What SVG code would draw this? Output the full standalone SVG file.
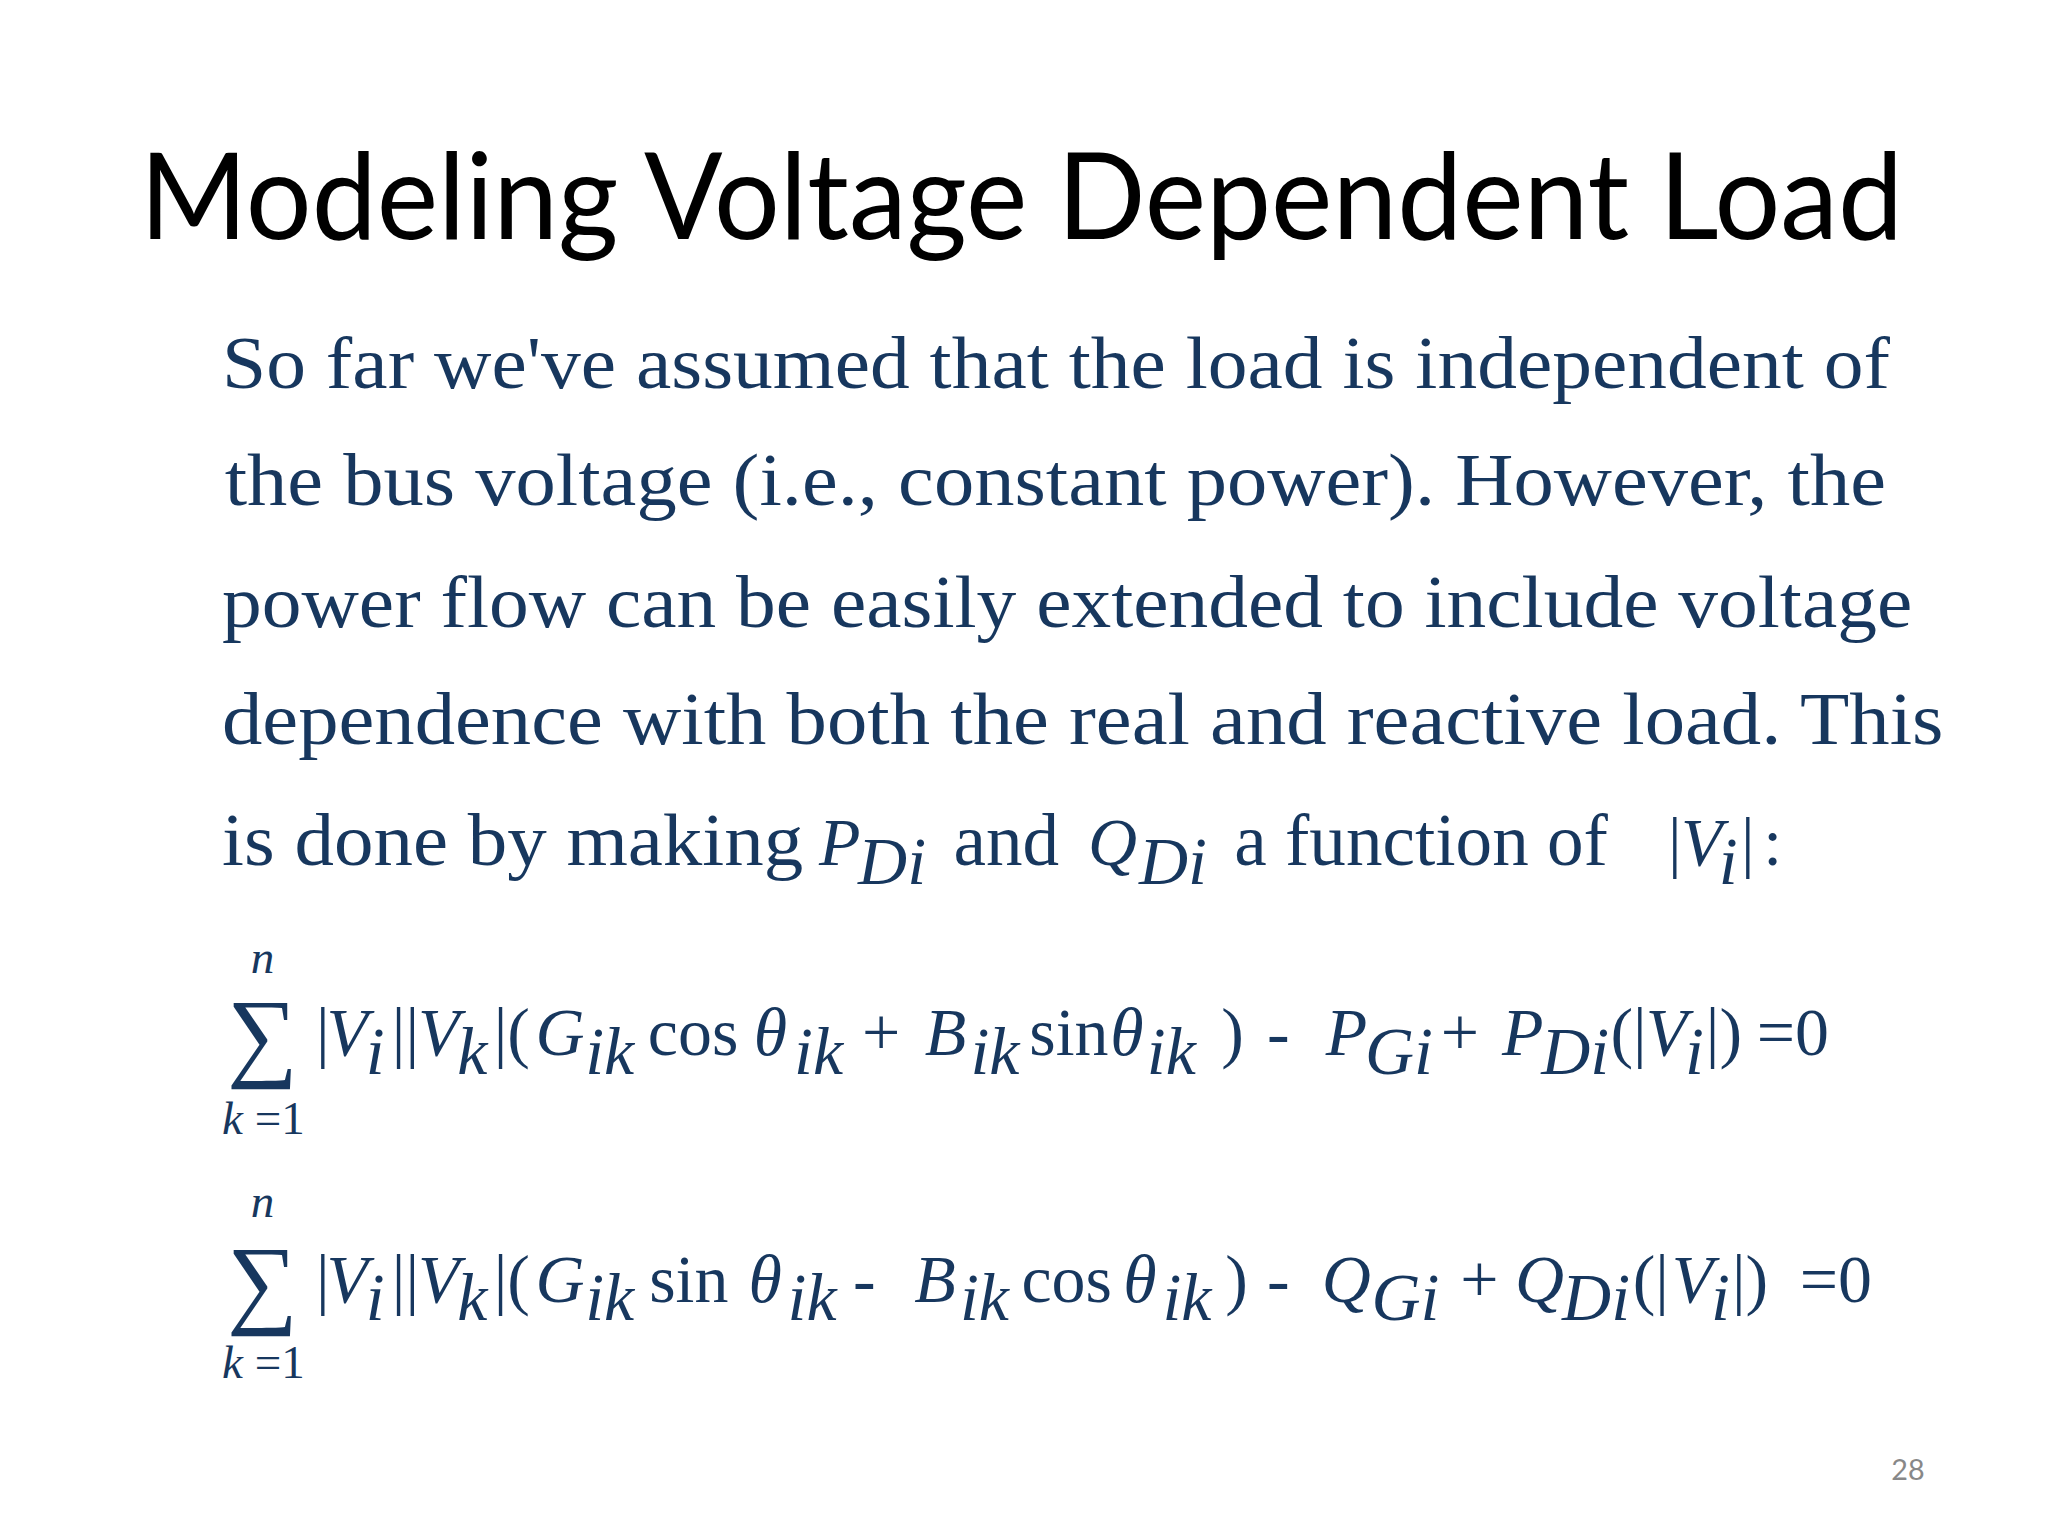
<svg xmlns="http://www.w3.org/2000/svg" width="2048" height="1536" viewBox="0 0 2048 1536">
<style>
.t{font-family:Lato,"Open Sans",sans-serif;font-size:92px;fill:#000}
.b{font-family:"Liberation Serif",serif;font-size:56px;fill:#17375E}
.i{font-style:italic}
.s{font-size:34px}
.m{font-family:"Liberation Serif",serif;font-size:52px;fill:#17375E}
.sum{font-family:"Liberation Serif",serif;font-size:76px;fill:#17375E}
.sm{font-family:"Liberation Serif",serif;font-size:36px;fill:#17375E}
.pg{font-family:Lato,sans-serif;font-size:22px;fill:#888}
</style>
<rect width="2048" height="1536" fill="#fff"/>
<g transform="scale(1.30612)">
<g id="title"><text class="t" x="107" y="183" textLength="1350" lengthAdjust="spacingAndGlyphs">Modeling Voltage Dependent Load</text></g>
<g id="body">
<text class="b" x="170" y="297" textLength="1277" lengthAdjust="spacingAndGlyphs">So far we've assumed that the load is independent of</text>
<text class="b" x="172" y="387" textLength="1272" lengthAdjust="spacingAndGlyphs">the bus voltage (i.e., constant power).  However, the</text>
<text class="b" x="170" y="480" textLength="1294" lengthAdjust="spacingAndGlyphs">power flow can be easily extended to include voltage</text>
<text class="b" x="170" y="570" textLength="1318" lengthAdjust="spacingAndGlyphs">dependence with both the real and reactive load.  This</text>
<text class="b" x="170" y="662" textLength="445" lengthAdjust="spacingAndGlyphs">is done by making</text>
<text class="m i" x="627" y="662">P</text><text class="m i s" x="657" y="677">Di</text>
<text class="b" x="730" y="662">and</text>
<text class="m i" x="833" y="662">Q</text><text class="m i s" x="872" y="677">Di</text>
<text class="b" x="945" y="662">a function of</text>
<text class="m" x="1277" y="662">|</text><text class="m i" x="1287" y="662">V</text><text class="m i s" x="1316" y="677">i</text><text class="m" x="1333" y="662">|</text><text class="m" x="1350" y="662">:</text>
</g>
<g id="eq1">
<text class="sum" x="174" y="818">∑</text>
<text class="sm i" x="192" y="745">n</text>
<text class="sm" x="170" y="868"><tspan class="i">k</tspan> =1</text>
<text class="m" x="242" y="808">|</text><text class="m i" x="250" y="808">V</text><text class="m i s" x="280" y="822">i</text>
<text class="m" x="300" y="808">||</text><text class="m i" x="320" y="808">V</text><text class="m i s" x="350" y="822">k</text>
<text class="m" x="378" y="808">|(</text><text class="m i" x="410" y="808">G</text><text class="m i s" x="448" y="822">ik</text>
<text class="m" x="496" y="808">cos</text><text class="m i" x="577" y="808">θ</text><text class="m i s" x="608" y="822">ik</text>
<text class="m" x="660" y="808">+</text><text class="m i" x="708" y="808">B</text><text class="m i s" x="743" y="822">ik</text>
<text class="m" x="788" y="808">sin</text><text class="m i" x="850" y="808">θ</text><text class="m i s" x="878" y="822">ik</text>
<text class="m" x="935" y="808">)</text><text class="m" x="970" y="808">-</text>
<text class="m i" x="1015" y="808">P</text><text class="m i s" x="1045" y="822">Gi</text>
<text class="m" x="1103" y="808">+</text><text class="m i" x="1150" y="808">P</text><text class="m i s" x="1180" y="822">Di</text>
<text class="m" x="1233" y="808">(|</text><text class="m i" x="1260" y="808">V</text><text class="m i s" x="1290" y="822">i</text>
<text class="m" x="1306" y="808">|)</text><text class="m" x="1345" y="808">=0</text>
</g>
<g id="eq2">
<text class="sum" x="174" y="1007">∑</text>
<text class="sm i" x="192" y="932">n</text>
<text class="sm" x="170" y="1055"><tspan class="i">k</tspan> =1</text>
<text class="m" x="242" y="997">|</text><text class="m i" x="250" y="997">V</text><text class="m i s" x="280" y="1011">i</text>
<text class="m" x="300" y="997">||</text><text class="m i" x="320" y="997">V</text><text class="m i s" x="350" y="1011">k</text>
<text class="m" x="378" y="997">|(</text><text class="m i" x="410" y="997">G</text><text class="m i s" x="448" y="1011">ik</text>
<text class="m" x="497" y="997">sin</text><text class="m i" x="573" y="997">θ</text><text class="m i s" x="603" y="1011">ik</text>
<text class="m" x="653" y="997">-</text><text class="m i" x="700" y="997">B</text><text class="m i s" x="735" y="1011">ik</text>
<text class="m" x="782" y="997">cos</text><text class="m i" x="860" y="997">θ</text><text class="m i s" x="890" y="1011">ik</text>
<text class="m" x="938" y="997">)</text><text class="m" x="970" y="997">-</text>
<text class="m i" x="1012" y="997">Q</text><text class="m i s" x="1050" y="1011">Gi</text>
<text class="m" x="1118" y="997">+</text><text class="m i" x="1160" y="997">Q</text><text class="m i s" x="1196" y="1011">Di</text>
<text class="m" x="1250" y="997">(|</text><text class="m i" x="1280" y="997">V</text><text class="m i s" x="1310" y="1011">i</text>
<text class="m" x="1326" y="997">|)</text><text class="m" x="1378" y="997">=0</text>
</g>
<text class="pg" x="1448" y="1133">28</text>
</g>
</svg>
